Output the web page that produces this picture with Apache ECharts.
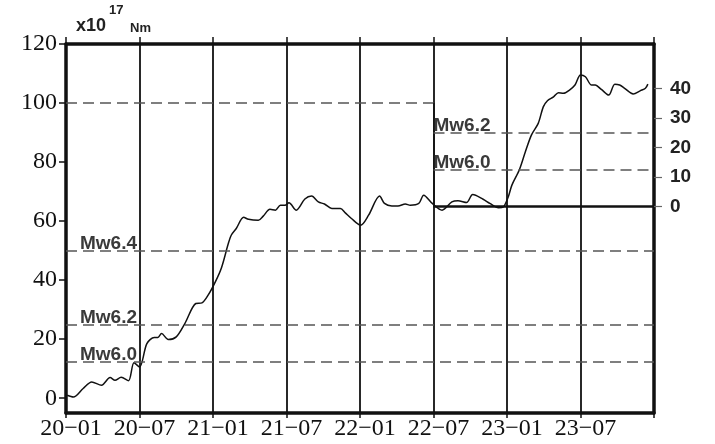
<!DOCTYPE html>
<html>
<head>
<meta charset="utf-8">
<script src="https://cdn.jsdelivr.net/npm/echarts@6/dist/echarts.min.js"></script>
<style>
  html, body { margin: 0; padding: 0; background: #fff; }
  #chart { width: 715px; height: 444px; }
</style>
</head>
<body>
<div id="chart"></div>
<script>
// months since 2020-01
const months = [0.1, 0.6, 1.4, 2.1, 2.9, 3.6, 4.0, 4.5, 5.1, 5.55, 6.0, 6.6, 7.2, 7.5, 7.8, 8.35, 9.0, 9.7, 10.6, 11.1, 11.6, 12.2, 12.7, 13.25, 13.5, 13.9, 14.5, 14.9, 15.7, 16.1, 16.65, 17.1, 17.5, 17.9, 18.2, 18.8, 19.5, 20.05, 20.6, 21.1, 21.7, 22.4, 22.8, 23.3, 24.05, 24.7, 25.6, 26.0, 26.6, 27.1, 27.7, 28.1, 28.8, 29.2, 29.9, 30.7, 31.5, 32.0, 32.7, 33.2, 34.05, 34.6, 35.3, 35.7, 36.1, 36.4, 37.0, 37.5, 38.0, 38.55, 38.96, 39.3, 39.8, 40.2, 40.6, 41.1, 41.55, 42.0, 42.4, 42.9, 43.2, 43.7, 44.3, 44.8, 45.2, 45.6, 46.3, 46.9, 47.3, 47.5];
// cumulative seismic moment, x10^17 Nm
const moment = [1.0, 0.4, 3.3, 5.5, 4.4, 7.0, 6.1, 7.1, 5.9, 12.0, 10.6, 18.5, 20.6, 20.6, 21.9, 19.9, 20.8, 25.3, 32.1, 32.3, 34.9, 39.5, 44.3, 52.4, 55.3, 57.5, 61.3, 60.6, 60.3, 61.7, 64.0, 63.7, 65.4, 65.4, 66.2, 63.7, 67.5, 68.5, 66.5, 65.8, 64.3, 64.3, 62.8, 60.9, 58.6, 62.0, 68.5, 66.0, 65.1, 65.1, 65.8, 65.4, 66.0, 68.8, 66.0, 63.7, 66.5, 66.9, 66.3, 69.0, 67.4, 66.0, 64.5, 64.8, 68.2, 72.2, 77.3, 83.5, 89.2, 93.1, 98.7, 100.8, 102.1, 103.5, 103.3, 104.4, 106.1, 109.5, 108.9, 106.1, 106.1, 104.6, 102.7, 106.4, 106.1, 105.0, 103.1, 104.2, 105.0, 106.4];

const xTickLabels = ['20\u221201', '20\u221207', '21\u221201', '21\u221207', '22\u221201', '22\u221207', '23\u221201', '23\u221207'];
const leftTicks = [0, 20, 40, 60, 80, 100, 120];
const rightTicks = [0, 10, 20, 30, 40];
const rightOffset = 65;       // right axis zero = 65 on left axis
const splitMonth = 30;        // 22-07
const leftMw = [['Mw6.4', 50], ['Mw6.2', 25], ['Mw6.0', 12.5]];
const rightMw = [['Mw6.2', 25], ['Mw6.0', 12.5]];
const refLevel = 100;

const serif = 'Liberation Serif';
const sans = 'Liberation Sans';

const dashStyle = { type: [11, 6], color: '#555', width: 1.5 };
const mwLabel = (text, dx) => ({
  show: true, formatter: text, position: 'insideStartTop', distance: [dx, -3],
  fontFamily: sans, fontWeight: 'bold', fontSize: 19, color: '#3a3a3a'
});

const markData = [];
markData.push([{ coord: [0, refLevel], lineStyle: dashStyle, label: { show: false } }, { coord: [splitMonth, refLevel] }]);
markData.push([{ coord: [splitMonth, refLevel], lineStyle: { type: 'solid', color: '#111', width: 1.5 }, label: { show: false } }, { coord: [splitMonth, rightOffset] }]);
markData.push([{ coord: [splitMonth, rightOffset], lineStyle: { type: 'solid', color: '#111', width: 2.5 }, label: { show: false } }, { coord: [48, rightOffset] }]);
leftMw.forEach(([t, v]) => {
  markData.push([{ coord: [0, v], lineStyle: dashStyle, label: mwLabel(t, 14) }, { coord: [48, v] }]);
});
rightMw.forEach(([t, v]) => {
  markData.push([{ coord: [splitMonth, v + rightOffset], lineStyle: dashStyle, label: mwLabel(t, 0) }, { coord: [48, v + rightOffset] }]);
});

const chart = echarts.init(document.getElementById('chart'));
chart.setOption({
  animation: false,
  backgroundColor: '#fff',
  grid: { left: 66, right: 61, top: 44, bottom: 31 },
  graphic: [
    { type: 'text', x: 76, y: 26, style: { text: 'x10', font: 'bold 18px "Liberation Sans"', fill: '#222', verticalAlign: 'middle' } },
    { type: 'text', x: 109, y: 10, style: { text: '17', font: 'bold 13px "Liberation Sans"', fill: '#222', verticalAlign: 'middle' } },
    { type: 'text', x: 130, y: 28, style: { text: 'Nm', font: 'bold 13px "Liberation Sans"', fill: '#222', verticalAlign: 'middle' } }
  ],
  xAxis: [
    {
      type: 'value', min: 0, max: 48, interval: 6, position: 'bottom',
      axisLine: { show: true, onZero: false, lineStyle: { color: '#111', width: 3.5 } },
      axisTick: { show: true, inside: false, length: 5, lineStyle: { color: '#111', width: 1.5 } },
      axisLabel: {
        show: true, margin: 4, fontFamily: serif, fontSize: 24, color: '#111', padding: [0, 0, 0, 10],
        formatter: v => { const i = Math.round(v / 6); return i < xTickLabels.length ? xTickLabels[i] : ''; }
      },
      splitLine: { show: true, lineStyle: { color: '#111', width: 1.8 } }
    },
    {
      type: 'value', min: 0, max: 48, interval: 6, position: 'top',
      axisLine: { show: true, onZero: false, lineStyle: { color: '#111', width: 3.5 } },
      axisTick: { show: true, inside: false, length: 7, lineStyle: { color: '#111', width: 1.5 } },
      axisLabel: { show: false },
      splitLine: { show: false }
    }
  ],
  yAxis: [
    {
      type: 'value', min: -5, max: 120, position: 'left',
      axisLine: { show: true, onZero: false, lineStyle: { color: '#111', width: 3.5 } },
      axisTick: { show: true, inside: false, length: 7, customValues: leftTicks, lineStyle: { color: '#111', width: 1.5 } },
      axisLabel: { show: true, margin: 9, customValues: leftTicks, fontFamily: serif, fontSize: 24, color: '#111' },
      splitLine: { show: false }
    },
    {
      type: 'value', min: -5 - rightOffset, max: 120 - rightOffset, position: 'right',
      axisLine: { show: true, onZero: false, lineStyle: { color: '#111', width: 3.5 } },
      axisTick: { show: true, inside: false, length: 8, customValues: rightTicks, lineStyle: { color: '#666', width: 1.2 } },
      axisLabel: { show: true, margin: 16, customValues: rightTicks, fontFamily: sans, fontWeight: 'bold', fontSize: 19, color: '#222' },
      splitLine: { show: false }
    }
  ],
  series: [{
    type: 'line',
    xAxisIndex: 0, yAxisIndex: 0,
    data: months.map((m, i) => [m, moment[i]]),
    showSymbol: false, symbol: 'none', smooth: 0.3,
    lineStyle: { color: '#111', width: 1.5 },
    markLine: { silent: true, symbol: ['none', 'none'], animation: false, data: markData }
  }]
});
</script>
</body>
</html>
